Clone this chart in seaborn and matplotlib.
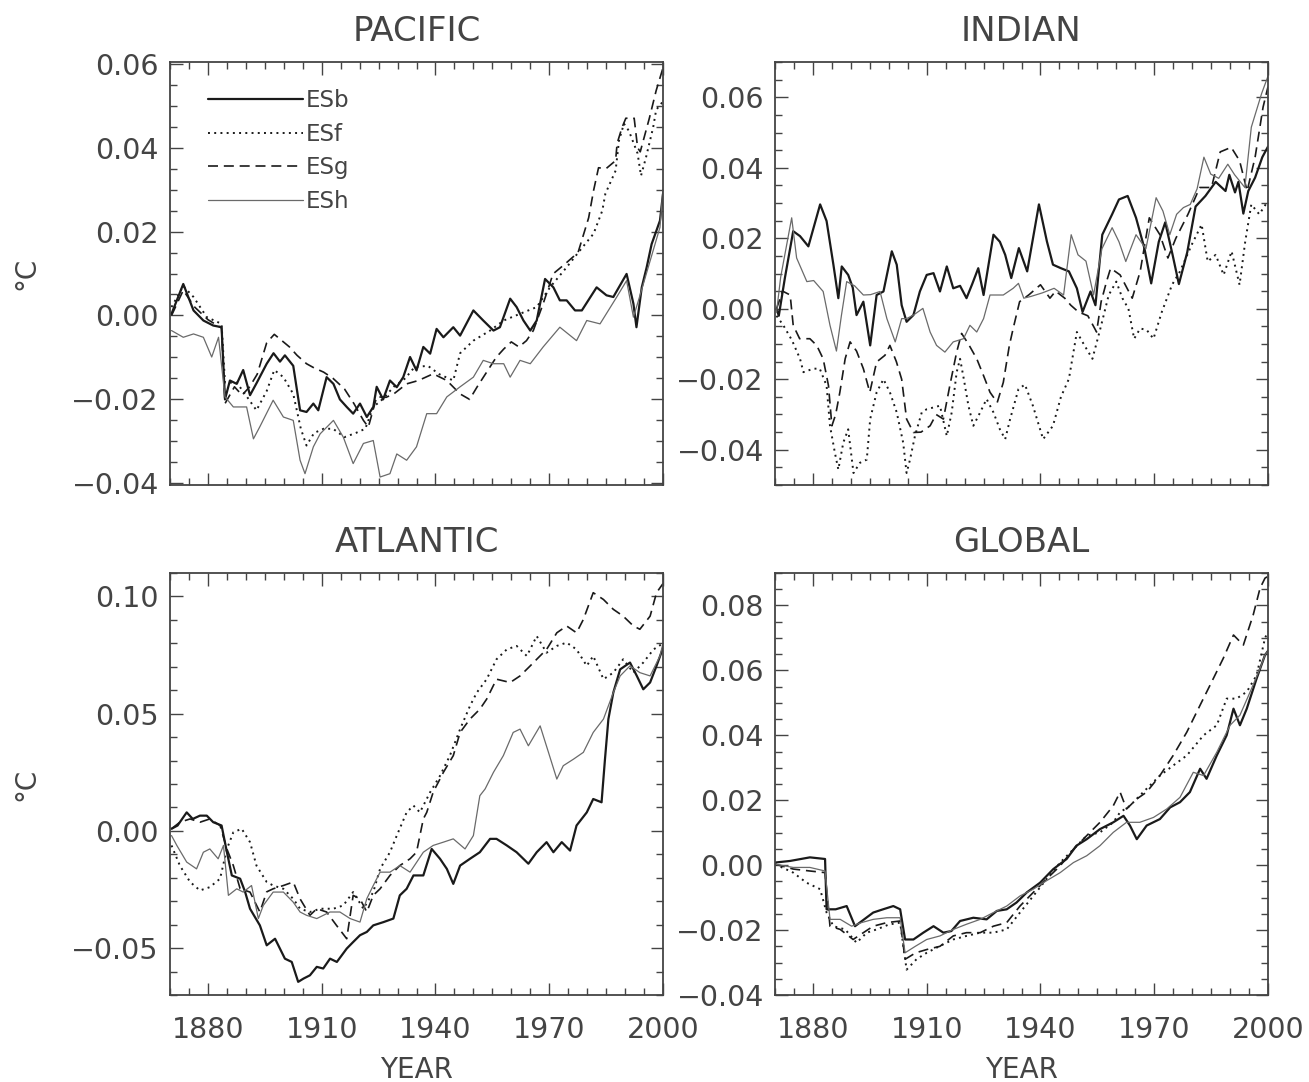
import numpy as np
import pandas as pd
import matplotlib
matplotlib.use("Agg")
import matplotlib.pyplot as plt
from matplotlib.ticker import FixedLocator, MultipleLocator, FuncFormatter
import seaborn as sns

# ---------------- DATA ----------------
PANELS = ["PACIFIC", "INDIAN", "ATLANTIC", "GLOBAL"]
RUNS = ["ESb", "ESf", "ESg", "ESh"]
XTICKS = [1880, 1910, 1940, 1970, 2000]

PAC_YTICKS = [-0.04, -0.02, 0.00, 0.02, 0.04, 0.06]
IND_YTICKS = [-0.04, -0.02, 0.00, 0.02, 0.04, 0.06]
ATL_YTICKS = [-0.05, 0.00, 0.05, 0.10]
GLB_YTICKS = [-0.04, -0.02, 0.00, 0.02, 0.04, 0.06, 0.08]

# Pacific
PAC_ESB_YR = [1870.4, 1873.5, 1876.2, 1878.8, 1881.4, 1883.6, 1884.5, 1885.8, 1887.6, 1889.3, 1891.1, 1892.9, 1895.5, 1897.3, 1899.0, 1900.3, 1902.5, 1904.3, 1906.0, 1907.8, 1909.1, 1911.3, 1913.1, 1914.8, 1916.6, 1918.3, 1920.1, 1921.9, 1923.6, 1924.5, 1926.2, 1928.0, 1929.8, 1931.5, 1933.3, 1935.0, 1936.8, 1938.6, 1940.3, 1942.1, 1944.7, 1946.5, 1950.0, 1952.6, 1955.3, 1957.0, 1959.7, 1961.4, 1963.2, 1965.0, 1966.7, 1968.9, 1971.1, 1972.8, 1974.6, 1976.8, 1978.6, 1980.3, 1982.5, 1985.1, 1986.9, 1990.4, 1992.2, 1993.0, 1994.4, 1995.7, 1997.0, 1999.2, 2000.0]
PAC_ESB_V = [0.0004, 0.0075, 0.0012, -0.0012, -0.0024, -0.0028, -0.020, -0.0155, -0.0163, -0.013, -0.019, -0.016, -0.0115, -0.009, -0.011, -0.0095, -0.012, -0.0226, -0.023, -0.021, -0.0226, -0.0147, -0.0163, -0.020, -0.0218, -0.0234, -0.021, -0.0242, -0.0218, -0.017, -0.020, -0.0155, -0.0171, -0.0147, -0.0099, -0.0131, -0.0075, -0.0091, -0.0032, -0.0052, -0.0028, -0.0048, 0.0012, -0.0012, -0.0036, -0.0028, 0.004, 0.002, -0.0012, -0.0036, -0.0012, 0.0087, 0.0067, 0.0036, 0.0036, 0.0012, 0.0012, 0.0036, 0.0067, 0.0048, 0.0044, 0.0099, 0.0028, -0.0028, 0.0067, 0.0115, 0.017, 0.0226, 0.029]
PAC_ESF_YR = [1870.4, 1873.5, 1876.2, 1879.7, 1883.6, 1884.5, 1887.6, 1890.0, 1892.8, 1895.5, 1897.5, 1899.9, 1902.5, 1904.5, 1906.0, 1908.0, 1910.5, 1913.0, 1916.0, 1919.0, 1921.5, 1923.6, 1926.0, 1929.0, 1932.0, 1934.5, 1938.0, 1941.0, 1944.7, 1946.5, 1950.0, 1954.4, 1958.0, 1962.3, 1966.7, 1970.2, 1974.6, 1978.1, 1981.7, 1984.0, 1984.8, 1987.5, 1988.4, 1989.7, 1991.0, 1993.3, 1994.2, 1995.5, 1997.4, 1998.2, 2000.0]
PAC_ESF_V = [0.002, 0.007, 0.0044, -0.0004, -0.002, -0.016, -0.016, -0.019, -0.0226, -0.018, -0.013, -0.0147, -0.0187, -0.027, -0.031, -0.028, -0.027, -0.027, -0.029, -0.028, -0.027, -0.0218, -0.020, -0.017, -0.015, -0.0123, -0.012, -0.014, -0.0155, -0.009, -0.006, -0.0036, -0.0012, 0.0004, 0.002, 0.0067, 0.0115, 0.0155, 0.0195, 0.025, 0.029, 0.0345, 0.0417, 0.0457, 0.044, 0.0386, 0.0333, 0.0376, 0.0448, 0.049, 0.051]
PAC_ESG_YR = [1870.4, 1873.5, 1876.5, 1880.0, 1883.6, 1884.5, 1887.0, 1889.0, 1891.0, 1893.0, 1895.5, 1897.5, 1899.5, 1901.5, 1903.5, 1906.0, 1908.0, 1910.5, 1913.0, 1916.0, 1918.5, 1921.0, 1922.3, 1924.5, 1927.0, 1929.0, 1932.4, 1935.5, 1939.4, 1943.0, 1946.5, 1949.0, 1951.0, 1953.5, 1956.0, 1958.0, 1960.0, 1962.0, 1964.0, 1965.8, 1968.4, 1971.0, 1974.2, 1977.6, 1980.4, 1981.7, 1983.0, 1985.0, 1987.5, 1987.9, 1989.2, 1990.2, 1992.4, 1993.3, 1994.0, 1996.4, 1998.2, 2000.0]
PAC_ESG_V = [0.0, 0.006, 0.002, -0.001, -0.003, -0.021, -0.017, -0.019, -0.017, -0.014, -0.0065, -0.0045, -0.006, -0.0075, -0.0095, -0.0115, -0.0125, -0.0135, -0.015, -0.0175, -0.021, -0.025, -0.0266, -0.0194, -0.0195, -0.0187, -0.0163, -0.0155, -0.0139, -0.0155, -0.0187, -0.020, -0.017, -0.0135, -0.010, -0.008, -0.0063, -0.0075, -0.006, -0.0036, 0.0028, 0.0099, 0.0123, 0.015, 0.0233, 0.0298, 0.0352, 0.035, 0.0369, 0.041, 0.0448, 0.047, 0.047, 0.040, 0.039, 0.047, 0.0536, 0.059]
PAC_ESH_YR = [1870.4, 1873.5, 1876.2, 1878.8, 1881.0, 1882.8, 1884.5, 1886.7, 1890.2, 1892.0, 1893.7, 1897.2, 1899.9, 1902.5, 1904.3, 1905.6, 1907.8, 1909.6, 1913.1, 1915.7, 1918.3, 1921.0, 1923.6, 1925.4, 1928.0, 1929.8, 1932.4, 1935.0, 1937.7, 1940.3, 1943.0, 1946.5, 1950.0, 1952.6, 1955.3, 1958.0, 1959.7, 1962.3, 1965.0, 1968.4, 1972.8, 1977.2, 1979.9, 1983.4, 1987.8, 1990.4, 1992.2, 1994.0, 1996.6, 1999.2, 2000.0]
PAC_ESH_V = [-0.0036, -0.0052, -0.0044, -0.0052, -0.0099, -0.0052, -0.0194, -0.0218, -0.0218, -0.0294, -0.0265, -0.0202, -0.0242, -0.025, -0.0345, -0.0377, -0.0313, -0.0282, -0.025, -0.029, -0.0353, -0.0305, -0.0298, -0.0385, -0.0377, -0.033, -0.0345, -0.0313, -0.0234, -0.0234, -0.0194, -0.017, -0.0147, -0.0107, -0.0115, -0.0115, -0.0147, -0.0107, -0.0115, -0.0075, -0.0028, -0.006, -0.0012, -0.002, 0.0044, 0.0083, -0.0004, 0.005, 0.013, 0.021, 0.030]

# Indian
IND_ESB_YR = [1870.4, 1871.0, 1872.6, 1874.8, 1876.6, 1878.8, 1881.9, 1883.6, 1885.4, 1886.7, 1887.6, 1889.3, 1890.5, 1891.5, 1893.3, 1895.1, 1896.8, 1898.6, 1900.8, 1902.1, 1903.4, 1904.7, 1906.5, 1908.2, 1910.0, 1911.8, 1913.5, 1915.3, 1917.0, 1918.8, 1920.5, 1922.0, 1923.6, 1925.0, 1927.6, 1929.3, 1930.7, 1932.3, 1934.3, 1936.5, 1939.6, 1941.7, 1943.3, 1945.4, 1947.5, 1949.6, 1951.1, 1953.2, 1954.5, 1956.3, 1958.9, 1960.7, 1963.0, 1965.2, 1967.4, 1969.2, 1971.2, 1972.9, 1974.8, 1976.5, 1978.7, 1980.9, 1983.5, 1986.2, 1988.8, 1989.8, 1991.3, 1992.2, 1993.5, 1994.8, 1996.6, 1998.5, 2000.0]
IND_ESB_V = [0.0, -0.002, 0.0087, 0.022, 0.0206, 0.0177, 0.0296, 0.0249, 0.0125, 0.003, 0.012, 0.0096, 0.006, -0.0018, 0.002, -0.0104, 0.0039, 0.0049, 0.0163, 0.0125, 0.001, -0.0037, -0.0018, 0.0049, 0.0096, 0.0101, 0.0049, 0.012, 0.0058, 0.0065, 0.003, 0.007, 0.0115, 0.0039, 0.021, 0.019, 0.0153, 0.0087, 0.0172, 0.0106, 0.0296, 0.0191, 0.0125, 0.0115, 0.0106, 0.0058, -0.0009, 0.0049, 0.001, 0.021, 0.0268, 0.031, 0.032, 0.0258, 0.0172, 0.0072, 0.019, 0.0245, 0.0155, 0.007, 0.016, 0.029, 0.032, 0.036, 0.0334, 0.038, 0.033, 0.036, 0.027, 0.0334, 0.0372, 0.043, 0.046]
IND_ESF_YR = [1870.4, 1872.2, 1874.5, 1876.6, 1877.5, 1880.1, 1881.8, 1883.6, 1884.5, 1885.8, 1886.7, 1888.0, 1889.3, 1890.7, 1892.4, 1894.2, 1895.1, 1896.8, 1898.6, 1900.3, 1902.1, 1903.8, 1904.7, 1905.6, 1906.9, 1908.7, 1910.0, 1911.8, 1913.5, 1915.3, 1916.6, 1917.9, 1918.8, 1919.8, 1921.0, 1922.3, 1924.1, 1925.8, 1927.6, 1929.3, 1930.7, 1932.0, 1934.2, 1935.9, 1938.0, 1940.7, 1943.3, 1945.4, 1947.5, 1949.6, 1951.6, 1953.7, 1955.8, 1958.0, 1960.0, 1961.6, 1963.2, 1964.7, 1966.3, 1968.0, 1969.8, 1972.0, 1974.7, 1976.8, 1979.9, 1982.5, 1984.1, 1986.2, 1988.3, 1990.4, 1992.5, 1994.0, 1995.6, 1997.7, 2000.0]
IND_ESF_V = [-0.002, -0.0047, -0.009, -0.0142, -0.018, -0.017, -0.017, -0.0218, -0.0332, -0.0409, -0.0456, -0.038, -0.0342, -0.0466, -0.0437, -0.0428, -0.0313, -0.0237, -0.020, -0.0237, -0.0294, -0.038, -0.0466, -0.0428, -0.0361, -0.0294, -0.0285, -0.028, -0.0275, -0.0361, -0.0294, -0.018, -0.0142, -0.020, -0.0275, -0.0332, -0.0294, -0.0256, -0.0294, -0.0342, -0.037, -0.0313, -0.0228, -0.0215, -0.0275, -0.037, -0.0332, -0.025, -0.0199, -0.0066, -0.0104, -0.0142, -0.0056, 0.0039, 0.0077, 0.003, 0.0, -0.0085, -0.0056, -0.006, -0.0085, -0.0009, 0.0068, 0.0106, 0.0182, 0.0239, 0.0134, 0.0153, 0.0096, 0.0163, 0.0068, 0.0191, 0.0296, 0.0268, 0.0306]
IND_ESG_YR = [1870.4, 1872.0, 1874.0, 1874.8, 1876.5, 1879.2, 1881.0, 1882.7, 1884.1, 1885.0, 1886.0, 1887.1, 1888.5, 1889.8, 1891.5, 1893.3, 1895.0, 1896.8, 1899.0, 1900.3, 1902.0, 1903.4, 1904.7, 1906.5, 1908.5, 1910.9, 1912.5, 1914.4, 1916.1, 1917.9, 1919.2, 1921.0, 1923.2, 1925.0, 1926.7, 1928.6, 1930.2, 1931.8, 1932.8, 1934.5, 1937.0, 1940.0, 1942.5, 1944.0, 1946.4, 1948.0, 1950.0, 1952.5, 1954.8, 1956.0, 1957.5, 1958.5, 1961.0, 1964.2, 1966.3, 1968.7, 1971.5, 1973.6, 1975.7, 1978.9, 1982.0, 1985.1, 1987.4, 1990.3, 1992.5, 1994.5, 1996.6, 1998.7, 2000.0]
IND_ESG_V = [0.0, 0.005, 0.0039, -0.0047, -0.0085, -0.0085, -0.0104, -0.0142, -0.0218, -0.0332, -0.030, -0.0237, -0.0142, -0.0094, -0.012, -0.017, -0.0237, -0.0151, -0.0132, -0.0104, -0.015, -0.020, -0.0313, -0.0351, -0.035, -0.0332, -0.030, -0.0313, -0.0218, -0.0123, -0.007, -0.010, -0.0142, -0.019, -0.0237, -0.0266, -0.0209, -0.0104, -0.0056, 0.002, 0.004, 0.0068, 0.003, 0.005, 0.003, 0.001, -0.0009, -0.002, -0.0066, 0.002, 0.008, 0.0115, 0.0096, 0.003, 0.0106, 0.0258, 0.021, 0.0144, 0.020, 0.0268, 0.0344, 0.0344, 0.0445, 0.0458, 0.042, 0.0334, 0.043, 0.0572, 0.063]
IND_ESH_YR = [1870.4, 1871.5, 1874.4, 1875.7, 1878.4, 1880.2, 1882.7, 1884.5, 1886.2, 1887.5, 1888.9, 1891.0, 1893.3, 1895.2, 1897.7, 1899.5, 1901.7, 1903.4, 1904.7, 1906.5, 1909.0, 1910.9, 1912.6, 1914.8, 1917.0, 1919.7, 1921.4, 1923.2, 1925.0, 1926.7, 1930.2, 1932.8, 1934.2, 1935.6, 1937.5, 1940.5, 1943.6, 1946.1, 1948.1, 1949.9, 1952.0, 1954.0, 1956.2, 1958.9, 1960.7, 1962.5, 1965.2, 1967.8, 1970.5, 1972.3, 1974.1, 1975.9, 1977.7, 1979.5, 1981.3, 1983.1, 1984.9, 1987.0, 1989.4, 1991.2, 1993.9, 1995.6, 1998.3, 2000.0]
IND_ESH_V = [-0.001, 0.009, 0.0258, 0.0144, 0.0077, 0.008, 0.0049, -0.0047, -0.012, -0.002, 0.0077, 0.0065, 0.0039, 0.004, 0.0049, -0.0028, -0.0094, -0.0028, -0.0028, -0.0018, 0.0001, -0.0066, -0.0104, -0.0123, -0.0094, -0.0085, -0.0047, -0.0066, -0.0028, 0.0039, 0.0039, 0.0058, 0.0072, 0.003, 0.0035, 0.0045, 0.0058, 0.0039, 0.021, 0.0153, 0.0135, 0.0039, 0.017, 0.023, 0.019, 0.0134, 0.021, 0.017, 0.0315, 0.0277, 0.021, 0.0268, 0.0287, 0.0296, 0.034, 0.043, 0.0382, 0.037, 0.041, 0.038, 0.0344, 0.0515, 0.061, 0.066]

# Atlantic
ATL_ESB_YR = [1870.4, 1872.0, 1874.4, 1876.0, 1877.9, 1879.7, 1881.4, 1883.6, 1885.0, 1886.3, 1888.5, 1889.8, 1891.1, 1893.7, 1895.5, 1897.7, 1900.3, 1902.1, 1903.8, 1905.2, 1906.9, 1908.7, 1910.4, 1912.2, 1914.0, 1916.6, 1918.3, 1920.1, 1921.9, 1923.6, 1926.3, 1928.9, 1930.6, 1932.4, 1934.2, 1936.8, 1939.0, 1941.2, 1943.0, 1944.7, 1946.5, 1949.1, 1951.7, 1954.4, 1956.1, 1958.8, 1961.4, 1964.5, 1966.7, 1969.3, 1971.1, 1973.3, 1975.5, 1977.2, 1979.9, 1981.6, 1983.8, 1984.7, 1985.6, 1986.9, 1988.7, 1991.3, 1993.1, 1994.8, 1996.6, 1998.3, 2000.0]
ATL_ESB_V = [0.0009, 0.0023, 0.0079, 0.0051, 0.0065, 0.0065, 0.0037, 0.0023, -0.009, -0.019, -0.0204, -0.026, -0.0332, -0.0403, -0.0488, -0.046, -0.0545, -0.0559, -0.0644, -0.063, -0.0616, -0.058, -0.0587, -0.0545, -0.0559, -0.0502, -0.0474, -0.0445, -0.0431, -0.0403, -0.0389, -0.0374, -0.0275, -0.0247, -0.019, -0.019, -0.0077, -0.0119, -0.0162, -0.0226, -0.0148, -0.0119, -0.0091, -0.0034, -0.0034, -0.0062, -0.0091, -0.014, -0.0091, -0.0048, -0.0091, -0.0048, -0.0084, 0.0023, 0.0079, 0.0136, 0.0122, 0.0306, 0.0477, 0.059, 0.0689, 0.0718, 0.0661, 0.0604, 0.0633, 0.0704, 0.078]
ATL_ESF_YR = [1870.4, 1872.6, 1875.3, 1877.9, 1880.5, 1883.2, 1885.0, 1886.7, 1888.9, 1891.1, 1892.8, 1895.5, 1897.2, 1899.9, 1902.5, 1904.3, 1906.9, 1909.6, 1913.1, 1915.7, 1918.3, 1921.0, 1923.6, 1925.4, 1928.0, 1929.8, 1932.4, 1934.2, 1935.9, 1938.6, 1941.2, 1943.8, 1946.5, 1949.1, 1950.9, 1953.5, 1956.1, 1958.8, 1961.4, 1964.1, 1966.7, 1969.3, 1972.0, 1974.6, 1977.2, 1979.9, 1981.6, 1984.3, 1986.9, 1989.5, 1992.2, 1994.8, 1997.5, 2000.0]
ATL_ESF_V = [-0.0062, -0.0148, -0.0218, -0.0254, -0.024, -0.0204, -0.0077, -0.0006, 0.0009, -0.0048, -0.0148, -0.0218, -0.0233, -0.0247, -0.029, -0.0332, -0.0346, -0.0332, -0.0332, -0.0318, -0.0261, -0.0332, -0.0261, -0.0162, -0.0091, -0.002, 0.0079, 0.0108, 0.0079, 0.0165, 0.0235, 0.0321, 0.0434, 0.0533, 0.059, 0.0647, 0.0732, 0.0774, 0.0789, 0.0746, 0.0831, 0.076, 0.0789, 0.0803, 0.0774, 0.0704, 0.0746, 0.0647, 0.0675, 0.0732, 0.0675, 0.0718, 0.0774, 0.080]
ATL_ESG_YR = [1870.4, 1872.6, 1875.3, 1877.9, 1880.5, 1883.2, 1885.0, 1886.7, 1888.5, 1891.1, 1893.7, 1895.5, 1897.2, 1899.9, 1902.5, 1904.3, 1906.9, 1908.7, 1911.3, 1913.9, 1916.6, 1918.3, 1920.1, 1921.9, 1923.6, 1925.4, 1928.0, 1930.6, 1933.3, 1935.0, 1936.8, 1937.7, 1939.4, 1942.1, 1944.7, 1946.5, 1949.1, 1951.7, 1953.5, 1956.1, 1959.7, 1962.3, 1965.0, 1966.7, 1969.3, 1972.0, 1974.6, 1977.2, 1979.0, 1981.6, 1984.3, 1986.9, 1989.5, 1992.2, 1993.9, 1996.6, 1998.3, 2000.0]
ATL_ESG_V = [0.0009, 0.0037, 0.0051, 0.0037, 0.0051, 0.0023, -0.0077, -0.0148, -0.0247, -0.0261, -0.0346, -0.026, -0.0247, -0.0233, -0.0218, -0.029, -0.036, -0.0332, -0.0346, -0.0403, -0.046, -0.0275, -0.029, -0.0346, -0.0275, -0.0247, -0.019, -0.0148, -0.0119, -0.0091, 0.0051, 0.0079, 0.0165, 0.025, 0.0321, 0.042, 0.0477, 0.0519, 0.0562, 0.0647, 0.0633, 0.0661, 0.0704, 0.0732, 0.0774, 0.0845, 0.0874, 0.0845, 0.0902, 0.1016, 0.0987, 0.0945, 0.0916, 0.0874, 0.086, 0.0916, 0.1016, 0.1055]
ATL_ESH_YR = [1870.4, 1871.8, 1874.4, 1877.0, 1878.8, 1880.5, 1882.7, 1884.1, 1885.4, 1887.6, 1889.3, 1891.5, 1893.3, 1894.6, 1897.2, 1899.9, 1902.5, 1904.3, 1906.0, 1908.7, 1912.2, 1914.8, 1917.5, 1920.1, 1921.9, 1923.6, 1925.4, 1928.0, 1930.6, 1933.3, 1936.8, 1939.4, 1942.1, 1944.7, 1947.8, 1950.0, 1951.7, 1953.1, 1955.3, 1957.9, 1960.5, 1962.3, 1964.5, 1967.6, 1969.8, 1972.0, 1973.7, 1976.4, 1979.0, 1981.6, 1984.3, 1986.9, 1988.7, 1991.3, 1993.9, 1996.6, 1999.2, 2000.0]
ATL_ESH_V = [-0.0020, -0.0062, -0.0133, -0.0162, -0.0091, -0.0077, -0.0119, -0.0062, -0.0275, -0.0247, -0.0261, -0.0233, -0.0374, -0.0318, -0.0261, -0.0261, -0.0304, -0.0346, -0.036, -0.0374, -0.0346, -0.0346, -0.0374, -0.0389, -0.0289, -0.0233, -0.0176, -0.0176, -0.0148, -0.0176, -0.0091, -0.0062, -0.0048, -0.0034, -0.0077, -0.002, 0.015, 0.0179, 0.025, 0.0321, 0.042, 0.0434, 0.0363, 0.0448, 0.0335, 0.0221, 0.0278, 0.0306, 0.0335, 0.042, 0.0477, 0.059, 0.0661, 0.0704, 0.0675, 0.0661, 0.0746, 0.080]

# Global
GLB_ESB_YR = [1870.0, 1874.0, 1879.2, 1883.2, 1883.6, 1886.0, 1888.9, 1891.1, 1893.5, 1895.9, 1898.5, 1901.2, 1903.0, 1904.3, 1906.5, 1909.1, 1911.8, 1914.4, 1916.5, 1918.8, 1922.3, 1925.8, 1928.5, 1931.1, 1933.7, 1936.4, 1939.9, 1943.4, 1946.9, 1949.5, 1952.2, 1955.7, 1959.2, 1961.9, 1963.6, 1965.4, 1968.0, 1971.5, 1974.2, 1976.8, 1979.4, 1982.1, 1983.8, 1986.5, 1989.1, 1990.9, 1992.6, 1994.4, 1997.0, 1999.2, 2000.0]
GLB_ESB_V = [0.0008, 0.0013, 0.0024, 0.0019, -0.0136, -0.0136, -0.0126, -0.0188, -0.0167, -0.0146, -0.0136, -0.0126, -0.0136, -0.0229, -0.0229, -0.0208, -0.0188, -0.0208, -0.0203, -0.0172, -0.0162, -0.0167, -0.0141, -0.0136, -0.0115, -0.0084, -0.0054, -0.0012, 0.0019, 0.006, 0.008, 0.0111, 0.0132, 0.0152, 0.0122, 0.008, 0.0122, 0.0142, 0.0178, 0.0194, 0.0225, 0.0297, 0.0266, 0.0338, 0.040, 0.0482, 0.0431, 0.0482, 0.0575, 0.0647, 0.066]
GLB_ESF_YR = [1870.0, 1874.8, 1878.3, 1881.9, 1883.6, 1885.4, 1888.5, 1891.5, 1894.2, 1896.8, 1900.0, 1903.0, 1904.7, 1907.3, 1910.0, 1913.5, 1917.0, 1920.5, 1924.1, 1927.6, 1931.1, 1934.6, 1938.1, 1941.6, 1945.2, 1948.7, 1952.2, 1955.7, 1959.2, 1961.0, 1963.6, 1967.1, 1971.5, 1975.0, 1978.6, 1983.0, 1986.5, 1989.1, 1991.7, 1994.4, 1997.0, 1999.2, 2000.0]
GLB_ESF_V = [0.0003, -0.0023, -0.0054, -0.0074, -0.0146, -0.0188, -0.0198, -0.0239, -0.0208, -0.0198, -0.0183, -0.0177, -0.0322, -0.029, -0.027, -0.0249, -0.0229, -0.0218, -0.0208, -0.0208, -0.0198, -0.0146, -0.0095, -0.0043, 0.0008, 0.0049, 0.0091, 0.0101, 0.0132, 0.0163, 0.0183, 0.0225, 0.0276, 0.0307, 0.0338, 0.040, 0.0431, 0.0513, 0.0513, 0.0534, 0.0585, 0.0699, 0.072]
GLB_ESG_YR = [1870.0, 1874.8, 1879.2, 1883.2, 1884.5, 1887.2, 1890.6, 1893.3, 1895.9, 1899.5, 1903.0, 1904.3, 1907.1, 1910.0, 1913.5, 1917.0, 1920.5, 1924.1, 1927.6, 1931.1, 1934.6, 1938.1, 1941.6, 1945.2, 1948.7, 1952.2, 1955.7, 1959.2, 1961.0, 1962.7, 1965.4, 1968.0, 1971.5, 1975.0, 1978.6, 1982.1, 1984.7, 1988.2, 1990.9, 1993.5, 1996.1, 1997.9, 1999.2, 2000.0]
GLB_ESG_V = [0.0003, -0.0012, -0.0018, -0.0023, -0.0188, -0.0198, -0.0229, -0.0208, -0.0188, -0.0177, -0.0172, -0.029, -0.027, -0.026, -0.025, -0.0218, -0.0208, -0.0208, -0.0188, -0.0177, -0.0126, -0.0084, -0.0043, -0.0002, 0.0049, 0.0091, 0.0132, 0.0183, 0.0225, 0.0173, 0.0204, 0.0225, 0.0276, 0.0338, 0.041, 0.0493, 0.0554, 0.0637, 0.0709, 0.0678, 0.0771, 0.0853, 0.0884, 0.089]
GLB_ESH_YR = [1870.0, 1874.8, 1879.2, 1883.2, 1884.5, 1887.2, 1890.2, 1892.8, 1895.9, 1899.5, 1903.0, 1904.3, 1907.0, 1910.0, 1913.5, 1917.0, 1920.5, 1924.1, 1927.6, 1931.1, 1934.6, 1938.1, 1941.6, 1945.2, 1948.7, 1952.2, 1955.7, 1959.2, 1962.7, 1966.2, 1969.8, 1973.3, 1976.8, 1980.3, 1983.0, 1986.5, 1990.0, 1992.6, 1995.3, 1997.9, 1999.2, 2000.0]
GLB_ESH_V = [0.0003, -0.0007, -0.0007, -0.0018, -0.0167, -0.0167, -0.0188, -0.0177, -0.0167, -0.0162, -0.0162, -0.027, -0.025, -0.0229, -0.0218, -0.0198, -0.0182, -0.0167, -0.0146, -0.0126, -0.0095, -0.0074, -0.0048, -0.0023, 0.0008, 0.0029, 0.006, 0.0101, 0.0132, 0.0132, 0.0147, 0.0173, 0.0209, 0.0286, 0.0276, 0.0348, 0.0431, 0.0462, 0.0534, 0.0606, 0.0647, 0.066]

SERIES = {
    "PACIFIC": {"ESb": (PAC_ESB_YR, PAC_ESB_V), "ESf": (PAC_ESF_YR, PAC_ESF_V),
                "ESg": (PAC_ESG_YR, PAC_ESG_V), "ESh": (PAC_ESH_YR, PAC_ESH_V)},
    "INDIAN": {"ESb": (IND_ESB_YR, IND_ESB_V), "ESf": (IND_ESF_YR, IND_ESF_V),
               "ESg": (IND_ESG_YR, IND_ESG_V), "ESh": (IND_ESH_YR, IND_ESH_V)},
    "ATLANTIC": {"ESb": (ATL_ESB_YR, ATL_ESB_V), "ESf": (ATL_ESF_YR, ATL_ESF_V),
                 "ESg": (ATL_ESG_YR, ATL_ESG_V), "ESh": (ATL_ESH_YR, ATL_ESH_V)},
    "GLOBAL": {"ESb": (GLB_ESB_YR, GLB_ESB_V), "ESf": (GLB_ESF_YR, GLB_ESF_V),
               "ESg": (GLB_ESG_YR, GLB_ESG_V), "ESh": (GLB_ESH_YR, GLB_ESH_V)},
}

# ---------------- STYLE ----------------
sns.set_style("ticks")
plt.rcParams["font.family"] = ["DejaVu Sans"]
plt.rcParams["axes.unicode_minus"] = True

TXT = "#444444"
STYLE = {
    "ESb": dict(color="#1a1a1a", lw=1.6, dashes=None),
    "ESf": dict(color="#1a1a1a", lw=1.4, dashes=(1, 2.2)),
    "ESg": dict(color="#1a1a1a", lw=1.2, dashes=(6, 3.5)),
    "ESh": dict(color="#6a6a6a", lw=0.9, dashes=None),
}

W, H = 1309, 1082
fig = plt.figure(figsize=(W / 100, H / 100), dpi=100)

def rect(l, t, r, b):
    return [l / W, 1 - b / H, (r - l) / W, (b - t) / H]

layout = {
    "PACIFIC": (rect(170, 62, 663, 485), (-0.0404, 0.0604), PAC_YTICKS, 0.005, True),
    "INDIAN": (rect(775, 62, 1268, 485), (-0.05, 0.07), IND_YTICKS, 0.005, False),
    "ATLANTIC": (rect(170, 573, 663, 995), (-0.07, 0.11), ATL_YTICKS, 0.01, True),
    "GLOBAL": (rect(775, 573, 1268, 995), (-0.04, 0.09), GLB_YTICKS, 0.005, False),
}

fmt = FuncFormatter(lambda v, p: ("%.2f" % v).replace("-", "\u2212") if abs(v) > 1e-9 else "0.00")

for name in PANELS:
    r, ylim, yticks, ymin, ylab = layout[name]
    ax = fig.add_axes(r)
    for run in RUNS:
        yr, val = SERIES[name][run]
        st = STYLE[run]
        df = pd.DataFrame({"year": yr, "value": val})
        sns.lineplot(data=df, x="year", y="value", ax=ax, color=st["color"],
                     lw=st["lw"], sort=False, estimator=None, label=run)
        ln = ax.lines[-1]
        if st["dashes"] is not None:
            ln.set_dashes(st["dashes"])
        ln.set_solid_joinstyle("round")
    ax.set_xlim(1870, 2000)
    ax.set_ylim(*ylim)
    ax.xaxis.set_major_locator(FixedLocator(XTICKS))
    ax.xaxis.set_minor_locator(MultipleLocator(5))
    ax.yaxis.set_major_locator(FixedLocator(yticks))
    ax.yaxis.set_minor_locator(MultipleLocator(ymin))
    ax.yaxis.set_major_formatter(fmt)
    ax.tick_params(which="both", direction="in", top=True, right=True,
                   colors=TXT, labelcolor=TXT)
    ax.tick_params(which="major", length=9, width=1.0, labelsize=20.5)
    ax.tick_params(which="minor", length=5, width=1.0)
    ax.tick_params(axis="x", which="major", pad=15)
    ax.tick_params(axis="y", which="major", pad=8)
    for s in ax.spines.values():
        s.set_color(TXT)
        s.set_linewidth(1.3)
    ax.set_title(name, fontsize=24.5, color=TXT, pad=15)
    ax.set_xlabel("YEAR" if name in ("ATLANTIC", "GLOBAL") else "", fontsize=20, color=TXT, labelpad=9)
    ax.set_ylabel("\u00b0C" if ylab else "", fontsize=20, color=TXT)
    if ylab:
        ax.yaxis.set_label_coords(-0.262, 0.5)
    if name != "ATLANTIC" and name != "GLOBAL":
        ax.set_xticklabels([])
    if name == "PACIFIC":
        leg = ax.legend(loc="upper left", bbox_to_anchor=(0.077, 0.936), frameon=False,
                        fontsize=16.5, handlelength=4.15, handletextpad=0.1,
                        labelspacing=0.46, borderpad=0, borderaxespad=0)
        for t in leg.get_texts():
            t.set_color(TXT)
    else:
        ax.get_legend().remove() if ax.get_legend() else None

fig.savefig("out.png", dpi=100)
